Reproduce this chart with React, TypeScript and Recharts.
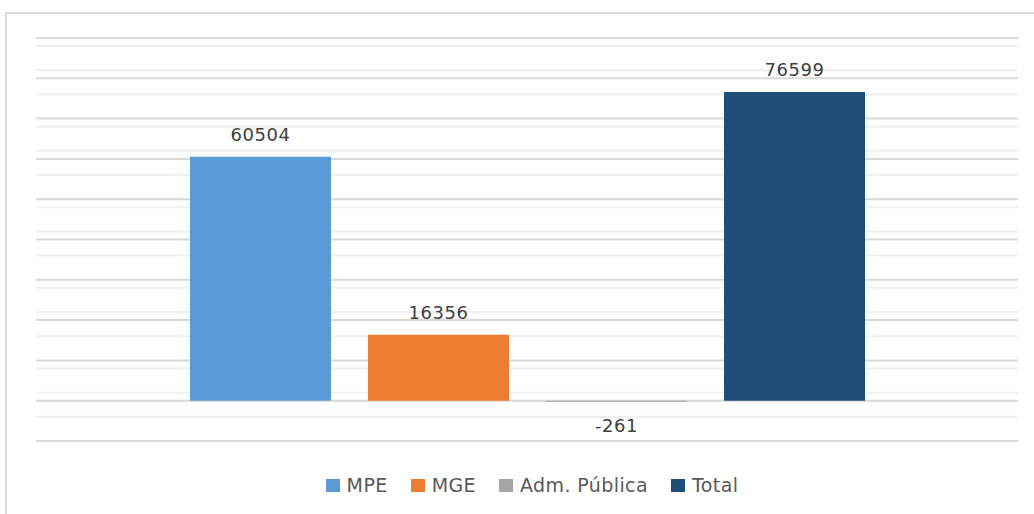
import { BarChart, Bar, XAxis, YAxis, CartesianGrid, LabelList } from 'recharts';

const categories = [''];
const seriesNames = ['MPE', 'MGE', 'Adm. Pública', 'Total'];
const seriesValues = [60504, 16356, -261, 76599];
const seriesColors = ['#5B9BD5', '#ED7D31', '#A5A5A5', '#1F4E79'];

const yDomain = [-10000, 90000];
const majorTicks = [-10000, 0, 10000, 20000, 30000, 40000, 50000, 60000, 70000, 80000, 90000];
const minorTicks = Array.from({ length: 51 }, (_, i) => -10000 + i * 2000).filter((v) => v % 10000 !== 0);

const seriesKeys = seriesNames.map((_, i) => `s${i}`);

const chartData = categories.map((name) => {
  const row: Record<string, string | number> = { name };
  seriesKeys.forEach((k, i) => {
    row[k] = seriesValues[i];
  });
  return row;
});

const FONT = '"DejaVu Sans", "Open Sans", sans-serif';

function ValueLabel(props: any) {
  const { x, y, width, height, value } = props;
  const top = Math.min(y, y + height);
  const bottom = Math.max(y, y + height);
  const cx = x + width / 2;
  const ty = value < 0 ? bottom + 30 : top - 16;
  return (
    <text x={cx} y={ty} textAnchor="middle" fill="#404040" fontSize={18} fontFamily={FONT} letterSpacing={0.5}>
      {value}
    </text>
  );
}

export default function App() {
  return (
    <div style={{ position: 'fixed', left: 0, top: 0, width: 1034, height: 514, overflow: 'hidden', background: '#fff' }}>
      <div
        style={{
          position: 'absolute',
          left: 5,
          top: 12,
          width: 1060,
          height: 540,
          border: '2px solid #d9d9d9',
          boxSizing: 'border-box',
        }}
      />
      <div style={{ position: 'absolute', left: 0, top: 0 }}>
        <BarChart
          width={1034}
          height={514}
          data={chartData}
          margin={{ top: 38, right: 16, bottom: 73, left: 36 }}
          barSize={141}
          barGap={37}
        >
          <XAxis dataKey="name" hide />
          <YAxis type="number" domain={yDomain} ticks={majorTicks} hide allowDataOverflow />
          <CartesianGrid vertical={false} horizontalValues={minorTicks} stroke="#efefef" strokeWidth={2} />
          <CartesianGrid vertical={false} horizontalValues={majorTicks} stroke="#d9d9d9" strokeWidth={2} />
          {seriesKeys.map((k, i) => (
            <Bar key={k} dataKey={k} name={seriesNames[i]} fill={seriesColors[i]} isAnimationActive={false}>
              <LabelList dataKey={k} content={ValueLabel} />
            </Bar>
          ))}
        </BarChart>
      </div>
      <div
        style={{
          position: 'absolute',
          left: 15,
          top: 474,
          width: 1034,
          display: 'flex',
          justifyContent: 'center',
          alignItems: 'center',
          fontFamily: FONT,
          fontSize: 19,
          color: '#595959',
          letterSpacing: 0.4,
        }}
      >
        {seriesNames.map((n, i) => (
          <div key={n} style={{ display: 'flex', alignItems: 'center', marginRight: i < seriesNames.length - 1 ? 23 : 0 }}>
            <span style={{ display: 'inline-block', width: 14, height: 13, background: seriesColors[i], marginRight: 7 }} />
            <span>{n}</span>
          </div>
        ))}
      </div>
    </div>
  );
}
